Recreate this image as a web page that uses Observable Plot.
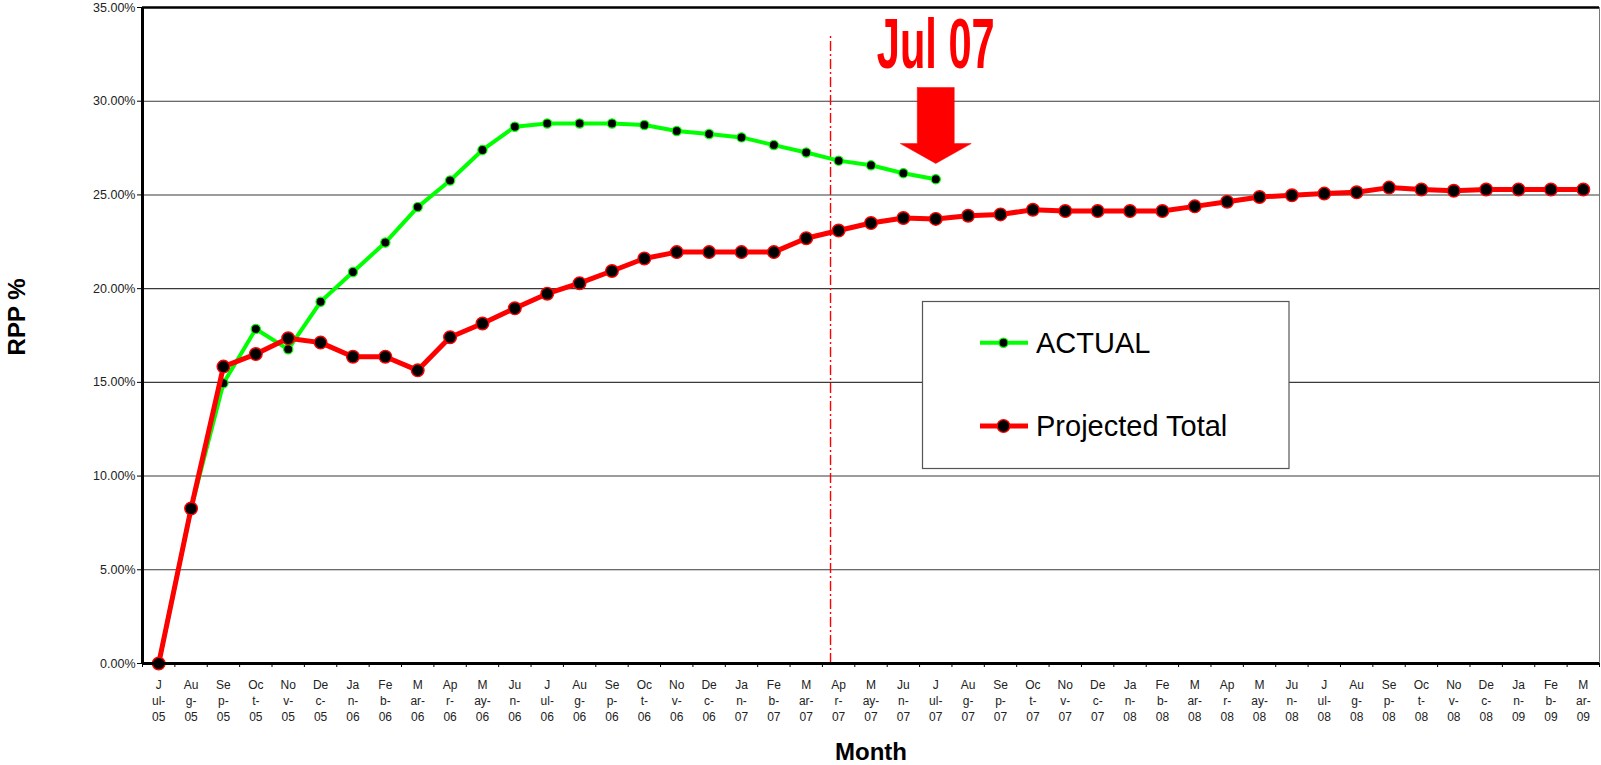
<!DOCTYPE html>
<html>
<head>
<meta charset="utf-8">
<script src="https://cdn.jsdelivr.net/npm/d3@7"></script>
<script src="https://cdn.jsdelivr.net/npm/@observablehq/plot@0.6"></script>
<style>
  html, body { margin: 0; padding: 0; background: #fff; overflow: hidden; }
  #chart { position: relative; width: 1601px; height: 765px; }
</style>
</head>
<body>
<div id="chart"></div>
<script>
// ---------- data ----------
const months = [
  "Jul-05","Aug-05","Sep-05","Oct-05","Nov-05","Dec-05","Jan-06","Feb-06","Mar-06","Apr-06","May-06","Jun-06",
  "Jul-06","Aug-06","Sep-06","Oct-06","Nov-06","Dec-06","Jan-07","Feb-07","Mar-07","Apr-07","May-07","Jun-07",
  "Jul-07","Aug-07","Sep-07","Oct-07","Nov-07","Dec-07","Jan-08","Feb-08","Mar-08","Apr-08","May-08","Jun-08",
  "Jul-08","Aug-08","Sep-08","Oct-08","Nov-08","Dec-08","Jan-09","Feb-09","Mar-09"
];
// how Excel wrapped each month name in the narrow category slot
const monthWrap = {
  Jul: ["J", "ul-"], Aug: ["Au", "g-"], Sep: ["Se", "p-"], Oct: ["Oc", "t-"],
  Nov: ["No", "v-"], Dec: ["De", "c-"], Jan: ["Ja", "n-"], Feb: ["Fe", "b-"],
  Mar: ["M", "ar-"], Apr: ["Ap", "r-"], May: ["M", "ay-"], Jun: ["Ju", "n-"]
};
// RPP % (ACTUAL) Jul-05 .. Jul-07
const actual = [
  0, 8.27, 14.95, 17.85, 16.76, 19.3, 20.89, 22.46, 24.35, 25.77, 27.4, 28.64,
  28.81, 28.81, 28.81, 28.73, 28.41, 28.25, 28.07, 27.66, 27.26, 26.83, 26.58, 26.16,
  25.84
];
// RPP % (Projected Total) Jul-05 .. Mar-09
const projected = [
  0, 8.27, 15.84, 16.51, 17.35, 17.12, 16.37, 16.37, 15.64, 17.41, 18.14, 18.95,
  19.73, 20.29, 20.94, 21.61, 21.95, 21.95, 21.95, 21.95, 22.69, 23.1, 23.5, 23.77,
  23.72, 23.89, 23.96, 24.21, 24.14, 24.14, 24.14, 24.14, 24.39, 24.64, 24.89, 24.98,
  25.07, 25.14, 25.39, 25.29, 25.22, 25.29, 25.29, 25.29, 25.29
];
const yTicks = [0, 5, 10, 15, 20, 25, 30, 35];
const seriesNames = ["ACTUAL", "Projected Total"];
const annotationText = "Jul 07";
const annotationMonth = "Jul-07";

// ---------- build ----------
const FONT = "'Liberation Sans', Arial, Helvetica, sans-serif";
const GREEN = "#00ff00", RED = "#ff0000";

const tickLabels = months.map(m => {
  const [mon, yr] = m.split("-");
  const w = monthWrap[mon];
  return `${w[0]}\n${w[1]}\n${yr}`;
});
const actualData = actual.map((v, i) => ({i, v}));
const projData = projected.map((v, i) => ({i, v}));
const n = months.length;
const ai = months.indexOf(annotationMonth);

// block arrow pointing at the last actual value (in scale units)
const arrowPoly = [
  [ai - 0.571, 30.73], [ai + 0.571, 30.73], [ai + 0.571, 27.74], [ai + 1.096, 27.74],
  [ai, 26.68], [ai - 1.096, 27.74], [ai - 0.571, 27.74], [ai - 0.571, 30.73]
].map(([x, y]) => ({x, y}));

const plot = Plot.plot({
  width: 1601,
  height: 765,
  marginLeft: 142,
  marginRight: 2,
  marginTop: 7,
  marginBottom: 102,
  x: {domain: [-0.5, n - 0.5]},
  y: {domain: [0, 35]},
  style: {fontFamily: FONT, background: "#fff", color: "#000"},
  marks: [
    Plot.ruleY(yTicks.filter(d => d > 0 && d < 35), {stroke: "#3a3a3a", strokeWidth: 1.1}),
    Plot.ruleY([35], {stroke: "#000", strokeWidth: 2.5}),
    Plot.ruleX([n - 0.5], {stroke: "#777", strokeWidth: 1}),
    Plot.ruleX([20.75], {y1: 0, y2: 33.5, stroke: RED, strokeWidth: 1.4, strokeDasharray: "10,3,2,3"}),
    // ACTUAL
    Plot.line(actualData, {x: "i", y: "v", stroke: GREEN, strokeWidth: 4}),
    Plot.dot(actualData, {x: "i", y: "v", r: 4.6, fill: "#000", stroke: GREEN, strokeWidth: 1.2}),
    // Projected Total
    Plot.line(projData, {x: "i", y: "v", stroke: RED, strokeWidth: 5}),
    Plot.dot(projData, {x: "i", y: "v", r: 6.3, fill: "#000", stroke: RED, strokeWidth: 1.4}),
    // annotation arrow + text
    Plot.line(arrowPoly, {x: "x", y: "y", fill: RED, stroke: RED, strokeWidth: 0.5}),
    Plot.text([annotationText], {x: ai, y: 31.75, text: d => d, fill: RED, fontSize: 71, fontWeight: "bold",
      lineAnchor: "bottom", textAnchor: "middle", className: "jul07"}),
    // axes
    Plot.axisY({ticks: yTicks, tickFormat: d => d.toFixed(2) + "%", tickSize: 5, tickPadding: 2,
      fontSize: 12.5, fill: "#222", label: null}),
    Plot.axisX({ticks: d3.range(-0.5, n, 1), tickFormat: () => "", tickSize: 4, label: null}),
    Plot.axisX({ticks: d3.range(n), tickFormat: i => tickLabels[i], tickSize: 0, tickPadding: 14.5,
      fontSize: 12, lineHeight: 1.33, fill: "#222", label: null}),
    Plot.ruleX([-0.5], {stroke: "#000", strokeWidth: 3}),
    Plot.ruleY([0], {stroke: "#000", strokeWidth: 3})
  ]
});

document.getElementById("chart").appendChild(plot);
const svg = d3.select(plot);

// condensed annotation text
svg.selectAll(".jul07 text").attr("textLength", 118).attr("lengthAdjust", "spacingAndGlyphs");

// axis titles
svg.append("text").attr("x", 871).attr("y", 760).attr("text-anchor", "middle")
  .attr("font-family", FONT).attr("font-size", 24).attr("font-weight", "bold").attr("fill", "#000").text("Month");
svg.append("text").attr("transform", "translate(25,317) rotate(-90)").attr("text-anchor", "middle")
  .attr("font-family", FONT).attr("font-size", 24).attr("font-weight", "bold").attr("fill", "#000").text("RPP %");

// legend
const lg = svg.append("g").attr("text-anchor", "start");
lg.append("rect").attr("x", 922.5).attr("y", 301.5).attr("width", 366.5).attr("height", 167)
  .attr("fill", "#fff").attr("stroke", "#555").attr("stroke-width", 1.2);
const legendItems = [
  {name: seriesNames[0], color: GREEN, y: 342.7, lw: 4, r: 4.6, base: 352.7},
  {name: seriesNames[1], color: RED, y: 426, lw: 5, r: 6.3, base: 436}
];
for (const it of legendItems) {
  lg.append("line").attr("x1", 980).attr("x2", 1028).attr("y1", it.y).attr("y2", it.y)
    .attr("stroke", it.color).attr("stroke-width", it.lw);
  lg.append("circle").attr("cx", 1003.5).attr("cy", it.y).attr("r", it.r)
    .attr("fill", "#000").attr("stroke", it.color).attr("stroke-width", 1.3);
  lg.append("text").attr("x", 1036).attr("y", it.base).attr("text-anchor", "start")
    .attr("font-family", FONT).attr("font-size", 29).attr("fill", "#000").text(it.name);
}
</script>
</body>
</html>
